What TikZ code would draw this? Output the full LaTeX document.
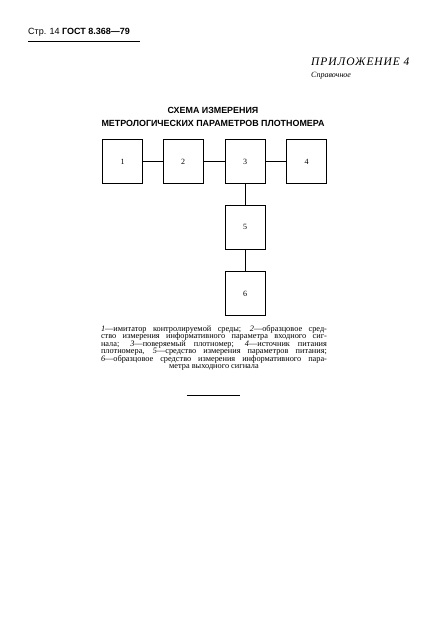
\documentclass[tikz,border=0pt]{standalone}
\usepackage{fontspec}
\setmainfont{Liberation Serif}
\setsansfont{Liberation Sans}
\newcommand\tesno{\lineskiplimit=-20pt\relax\lineskip=0pt\relax}
\begin{document}
\begin{tikzpicture}[x=1pt,y=-1pt,
  blok/.style={draw, line width=0.7pt, minimum width=40pt, minimum height=44pt, inner sep=0pt, font=\fontsize{8}{9}\selectfont},
  svyaz/.style={line width=0.7pt},
  txt/.style={inner sep=0pt}]
\useasboundingbox (0,0) rectangle (424,631);
% header
\node[txt, anchor=base west, font=\sffamily\fontsize{9}{10}\selectfont] (str) at (28,35) {Стр. 14 \textbf{ГОСТ 8.368—79}};
\draw[line width=0.8pt] (28,41) -- (140,41);
\node[txt, anchor=base west, font=\itshape\fontsize{11.5}{12}\selectfont\addfontfeature{LetterSpace=8}] (pril) at (311,66) {ПРИЛОЖЕНИЕ 4};
\node[txt, anchor=base west, font=\itshape\fontsize{8}{9}\selectfont] (sprav) at (311,78) {Справочное};
% title
\node[txt, anchor=base, font=\sffamily\bfseries\fontsize{8.9}{10}\selectfont] (zag1) at (213,114) {СХЕМА ИЗМЕРЕНИЯ};
\node[txt, anchor=base, font=\sffamily\bfseries\fontsize{8.9}{10}\selectfont] (zag2) at (213,127) {МЕТРОЛОГИЧЕСКИХ ПАРАМЕТРОВ ПЛОТНОМЕРА};
% blocks
\node[blok] (b1) at (122.5,161.5) {1};
\node[blok] (b2) at (183,161.5) {2};
\node[blok] (b3) at (245,161.5) {3};
\node[blok] (b4) at (306.5,161.5) {4};
\node[blok] (b5) at (245,227) {5};
\node[blok] (b6) at (245,293.5) {6};
\draw[svyaz] (b1) -- (b2);
\draw[svyaz] (b2) -- (b3);
\draw[svyaz] (b3) -- (b4);
\draw[svyaz] (b3) -- (b5);
\draw[svyaz] (b5) -- (b6);
% legend
\node[txt, anchor=north, align=center, font=\fontsize{8.3}{7.5}\selectfont\tesno] (legenda) at (214,325) {%
\makebox[226pt][s]{\textit{1}—имитатор контролируемой среды; \textit{2}—образцовое сред-}\\
\makebox[226pt][s]{ство измерения информативного параметра входного сиг-}\\
\makebox[226pt][s]{нала; \textit{3}—поверяемый плотномер; \textit{4}—источник питания}\\
\makebox[226pt][s]{плотномера, \textit{5}—средство измерения параметров питания;}\\
\makebox[226pt][s]{\textit{6}—образцовое средство измерения информативного пара-}\\
метра выходного сигнала};
\draw[line width=0.8pt] (187,395) -- (240,395);
\end{tikzpicture}
\end{document}
